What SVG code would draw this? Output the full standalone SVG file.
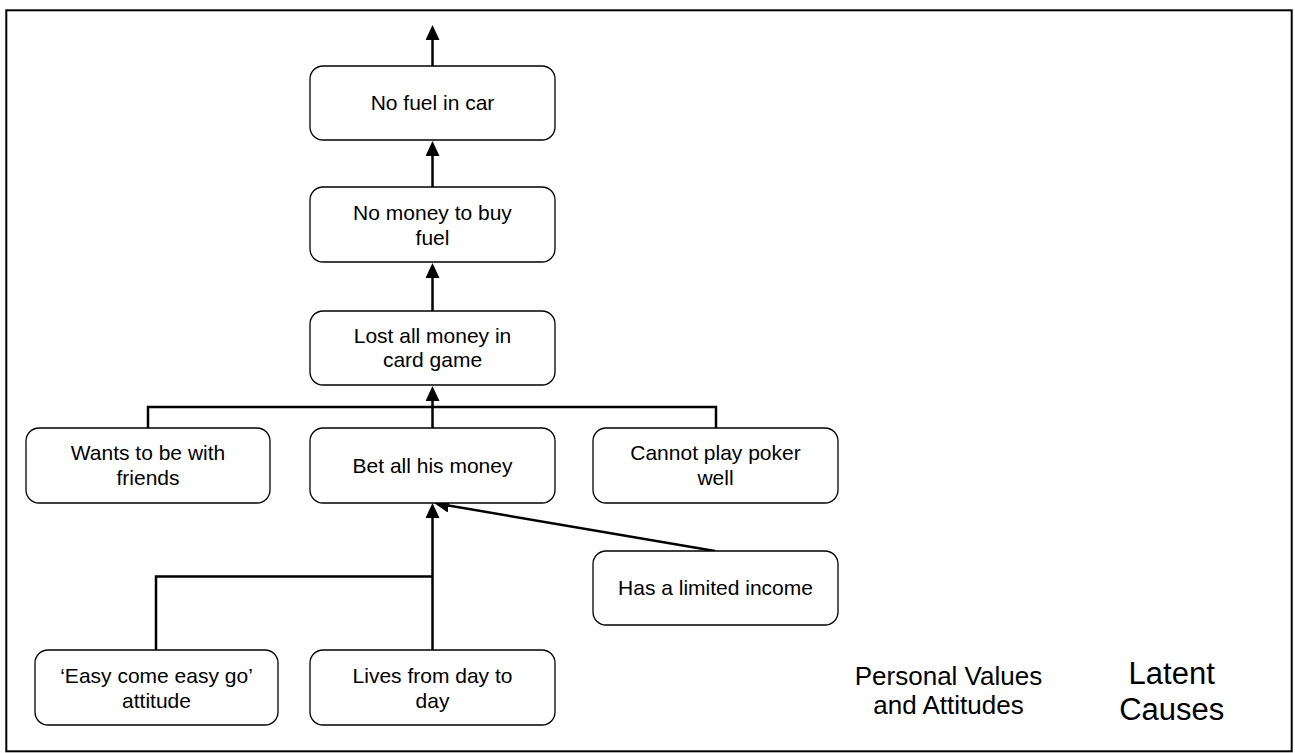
<svg xmlns="http://www.w3.org/2000/svg" width="1295" height="753" viewBox="0 0 1295 753">
<style>
.box{fill:#fff;stroke:#000;stroke-width:1.3}
.t{font-family:"Liberation Sans",Arial,sans-serif;font-size:21px;fill:#000;text-anchor:middle}
.pv{font-family:"Liberation Sans",Arial,sans-serif;font-size:26px;fill:#000;text-anchor:middle}
.lc{font-family:"Liberation Sans",Arial,sans-serif;font-size:31px;fill:#000;text-anchor:middle}
.c{fill:none;stroke:#000;stroke-width:2.5}
</style>
<defs>
<marker id="ah" viewBox="0 -7 15 14" refX="5" refY="0" markerWidth="15" markerHeight="14" markerUnits="userSpaceOnUse" orient="auto">
<path d="M0,-7 L15,0 L0,7 z" fill="#000"/>
</marker>
</defs>
<rect x="6.3" y="10.3" width="1285.4" height="741" fill="none" stroke="#000" stroke-width="2"/>
<g id="connectors">
<line class="c" x1="432.5" y1="66" x2="432.5" y2="35" marker-end="url(#ah)"/>
<line class="c" x1="432.5" y1="187" x2="432.5" y2="151" marker-end="url(#ah)"/>
<line class="c" x1="432.5" y1="311" x2="432.5" y2="273" marker-end="url(#ah)"/>
<path class="c" d="M148,428 V407 H716 V428"/>
<line class="c" x1="432.5" y1="428" x2="432.5" y2="396" marker-end="url(#ah)"/>
<line class="c" x1="432.5" y1="650" x2="432.5" y2="513" marker-end="url(#ah)"/>
<path class="c" d="M156,650 V576.5 H432.5"/>
<line class="c" x1="715" y1="551" x2="443.9" y2="504.7" marker-end="url(#ah)"/>
</g>
<g id="n_nofuel">
<rect class="box" x="310" y="66" width="245" height="74" rx="13"/>
<text class="t" x="432.5" y="110">No fuel in car</text>
</g>
<g id="n_nomoney">
<rect class="box" x="310" y="187" width="245" height="75" rx="13"/>
<text class="t" x="432.5" y="219.5">No money to buy</text>
<text class="t" x="432.5" y="244.5">fuel</text>
</g>
<g id="n_lost">
<rect class="box" x="310" y="311" width="245" height="74" rx="13"/>
<text class="t" x="432.5" y="343">Lost all money in</text>
<text class="t" x="432.5" y="367">card game</text>
</g>
<g id="n_wants">
<rect class="box" x="26" y="428" width="244" height="75" rx="13"/>
<text class="t" x="148" y="460">Wants to be with</text>
<text class="t" x="148" y="485">friends</text>
</g>
<g id="n_bet">
<rect class="box" x="310" y="428" width="245" height="75" rx="13"/>
<text class="t" x="432.5" y="472.5">Bet all his money</text>
</g>
<g id="n_cannot">
<rect class="box" x="593" y="428" width="245" height="75" rx="13"/>
<text class="t" x="715.5" y="460">Cannot play poker</text>
<text class="t" x="715.5" y="485">well</text>
</g>
<g id="n_income">
<rect class="box" x="593" y="551" width="245" height="74" rx="13"/>
<text class="t" x="715.5" y="595">Has a limited income</text>
</g>
<g id="n_easy">
<rect class="box" x="35" y="650" width="243" height="75" rx="13"/>
<text class="t" x="156.5" y="682.5">‘Easy come easy go’</text>
<text class="t" x="156.5" y="707.5">attitude</text>
</g>
<g id="n_lives">
<rect class="box" x="310" y="650" width="245" height="75" rx="13"/>
<text class="t" x="432.5" y="682.5">Lives from day to</text>
<text class="t" x="432.5" y="707.5">day</text>
</g>
<g id="l_personal">
<text class="pv" x="948.5" y="685">Personal Values</text>
<text class="pv" x="948.5" y="714">and Attitudes</text>
</g>
<g id="l_latent">
<text class="lc" x="1171.7" y="684">Latent</text>
<text class="lc" x="1171.7" y="720">Causes</text>
</g>
</svg>
